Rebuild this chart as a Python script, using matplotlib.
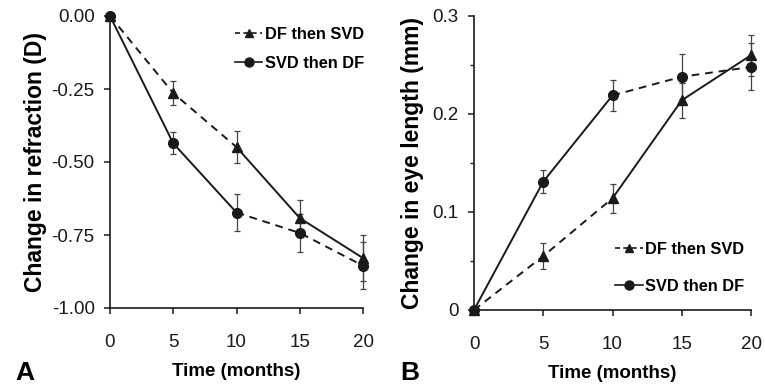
import matplotlib
matplotlib.use("Agg")
import matplotlib.pyplot as plt
from matplotlib.lines import Line2D

plt.rcParams['font.family'] = ['Liberation Sans', 'DejaVu Sans']

months = [0, 5, 10, 15, 20]

# Panel A: change in refraction (D)
refr_df_svd = [0.0, -0.264, -0.449, -0.692, -0.829]
refr_df_svd_err = [0.0, 0.042, 0.056, 0.062, 0.08]
refr_svd_df = [0.0, -0.436, -0.673, -0.743, -0.855]
refr_svd_df_err = [0.0, 0.038, 0.064, 0.065, 0.08]

# Panel B: change in eye length (mm)
len_df_svd = [0.0, 0.055, 0.114, 0.214, 0.260]
len_df_svd_err = [0.0, 0.013, 0.015, 0.018, 0.021]
len_svd_df = [0.0, 0.131, 0.219, 0.238, 0.248]
len_svd_df_err = [0.0, 0.012, 0.016, 0.023, 0.024]

series_labels = ["DF then SVD", "SVD then DF"]
refr_ticks = [0.0, -0.25, -0.5, -0.75, -1.0]
refr_ticklabels = ["0.00", "-0.25", "-0.50", "-0.75", "-1.00"]
len_ticks = [0, 0.1, 0.2, 0.3]
len_ticklabels = ["0", "0.1", "0.2", "0.3"]

INK = "#1a1a1a"
W, H = 765, 387
fig = plt.figure(figsize=(W / 100, H / 100), dpi=100)


def px_axes(x0, y0, x1, y1):
    return fig.add_axes([x0 / W, 1 - y1 / H, (x1 - x0) / W, (y1 - y0) / H])


def seg_style(style):
    return dict(ls='--', dashes=(4, 3)) if style == '--' else dict(ls='-')


def draw_series(ax, y, err, marker, ms, first_style, second_style):
    # first phase (0-10 months) and second phase (10-20 months)
    ax.plot(months[:3], y[:3], color=INK, lw=1.4, clip_on=False, zorder=3, **seg_style(first_style))
    ax.plot(months[2:], y[2:], color=INK, lw=1.4, clip_on=False, zorder=3, **seg_style(second_style))
    ax.errorbar(months, y, yerr=err, fmt='none', ecolor="#444444", elinewidth=0.9,
                capsize=2, capthick=0.9, clip_on=False, zorder=2)
    ax.plot(months, y, ls='none', marker=marker, ms=ms, color=INK, mec=INK,
            clip_on=False, zorder=4)


def style_axes(ax):
    for s in ("top", "right"):
        ax.spines[s].set_visible(False)
    for s in ("left", "bottom"):
        ax.spines[s].set_linewidth(1.2)
        ax.spines[s].set_color(INK)
    ax.set_xlim(0, 20)
    ax.set_xticks(months)
    ax.tick_params(direction='out', length=4, width=1.1, colors=INK, labelsize=13.5, pad=7)
    ax.tick_params(axis='x', pad=15)
    ax.set_xlabel("Time (months)", fontsize=13.5, fontweight='bold', labelpad=8)


def add_legend(ax, loc_xy, spacing):
    handles = [
        Line2D([], [], color=INK, lw=1.2, ls='--', dashes=(3, 2), marker='^', ms=6),
        Line2D([], [], color=INK, lw=1.2, ls='-', marker='o', ms=6.5),
    ]
    leg = ax.legend(handles, series_labels, loc='upper right', bbox_to_anchor=loc_xy,
                    frameon=False, handlelength=1.7, handletextpad=0.15, labelspacing=spacing,
                    prop={'weight': 'bold', 'size': 11.8}, borderaxespad=0)
    return leg


# ---- Panel A ----
axA = px_axes(110, 16, 363, 308)
style_axes(axA)
draw_series(axA, refr_df_svd, refr_df_svd_err, '^', 6.5, '--', '-')
draw_series(axA, refr_svd_df, refr_svd_df_err, 'o', 7, '-', '--')
axA.set_ylim(-1.0, 0.0)
axA.set_yticks(refr_ticks)
axA.set_yticklabels(refr_ticklabels)
axA.set_ylabel("Change in refraction (D)", fontsize=16.5, fontweight='bold', labelpad=3)
add_legend(axA, (1.03, 0.985), 0.85)
fig.text(15 / W, 1 - 385 / H, "A", fontsize=19, fontweight='bold', va='bottom', ha='left')

# ---- Panel B ----
axB = px_axes(474, 16, 751, 310)
style_axes(axB)
draw_series(axB, len_df_svd, len_df_svd_err, '^', 6.5, '--', '-')
draw_series(axB, len_svd_df, len_svd_df_err, 'o', 7, '-', '--')
axB.set_ylim(0, 0.3)
axB.set_yticks(len_ticks)
axB.set_yticklabels(len_ticklabels)
axB.set_yticks([0.05, 0.15, 0.25], minor=True)
axB.tick_params(axis='y', which='minor', direction='out', length=3, width=1.0, colors=INK)
axB.set_ylabel("Change in eye length (mm)", fontsize=16.5, fontweight='bold', labelpad=6)
add_legend(axB, (1.0, 0.255), 1.35)
fig.text(400 / W, 1 - 385 / H, "B", fontsize=19, fontweight='bold', va='bottom', ha='left')

fig.savefig("out.png", dpi=100, facecolor='white')
